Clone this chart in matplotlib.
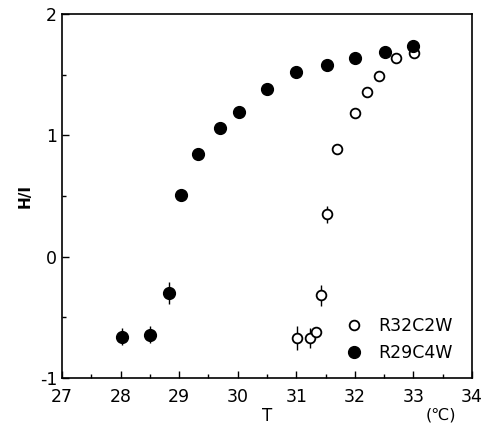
#!/usr/bin/env python3
import matplotlib.pyplot as plt
from matplotlib.ticker import MultipleLocator

# R32C2W (open circles)
t_open = [31.01, 31.24, 31.34, 31.43, 31.52, 31.70, 32.01, 32.20, 32.41, 32.71, 33.01]
h_open = [-0.67, -0.67, -0.62, -0.32, 0.35, 0.89, 1.18, 1.36, 1.49, 1.64, 1.68]
e_open = [0.10, 0.08, 0.04, 0.09, 0.07, 0.02, 0.03, 0.03, 0.02, 0.02, 0.03]

# R29C4W (filled circles)
t_fill = [28.02, 28.51, 28.83, 29.03, 29.32, 29.70, 30.02, 30.50, 31.00, 31.52, 32.01, 32.52, 33.00]
h_fill = [-0.66, -0.645, -0.30, 0.505, 0.85, 1.06, 1.19, 1.38, 1.52, 1.58, 1.64, 1.69, 1.74]
e_fill = [0.07, 0.07, 0.09, 0.05, 0.02, 0.02, 0.02, 0.02, 0.04, 0.04, 0.04, 0.04, 0.04]


def main():
    plt.rcParams["font.family"] = ["DejaVu Sans"]
    plt.rcParams["axes.unicode_minus"] = False
    fig = plt.figure(figsize=(4.83, 4.32), dpi=100)
    ax = fig.add_axes([62 / 483, 1 - 378 / 432, 410 / 483, 364 / 432])

    ax.errorbar(t_open, h_open, yerr=e_open, fmt="o", mfc="white", mec="black",
                mew=1.3, ms=7, ecolor="black", elinewidth=1.0, capsize=0,
                label="R32C2W", zorder=3)
    ax.errorbar(t_fill, h_fill, yerr=e_fill, fmt="o", mfc="black", mec="black",
                ms=8.5, ecolor="black", elinewidth=1.0, capsize=0,
                label="R29C4W", zorder=3)

    ax.set_xlim(27, 34)
    ax.set_ylim(-1, 2)
    ax.xaxis.set_major_locator(MultipleLocator(1))
    ax.xaxis.set_minor_locator(MultipleLocator(0.5))
    ax.yaxis.set_major_locator(MultipleLocator(1))
    ax.yaxis.set_minor_locator(MultipleLocator(0.5))
    ax.tick_params(which="both", direction="in", labelsize=12.5, width=1.0)
    ax.tick_params(which="major", length=5)
    ax.tick_params(which="minor", length=3)
    ax.tick_params(axis="x", pad=7)
    for s in ax.spines.values():
        s.set_linewidth(1.2)

    ax.set_xlabel("T", fontsize=12, labelpad=1)
    ax.set_ylabel("H/I", fontsize=11, fontweight="bold", labelpad=5)
    fig.text(441 / 483, 1 - 415 / 432, "(\u2103)", fontsize=11.5,
             ha="center", va="center")

    handles, labels = ax.get_legend_handles_labels()
    handles = [h[0] for h in handles]
    ax.legend(handles, labels, loc="lower right", bbox_to_anchor=(0.99, 0.0),
              frameon=False, fontsize=12.5, handletextpad=0.9, labelspacing=0.55,
              handlelength=1.0)

    fig.savefig("out.png", dpi=100)
    plt.close(fig)


if __name__ == "__main__":
    main()
